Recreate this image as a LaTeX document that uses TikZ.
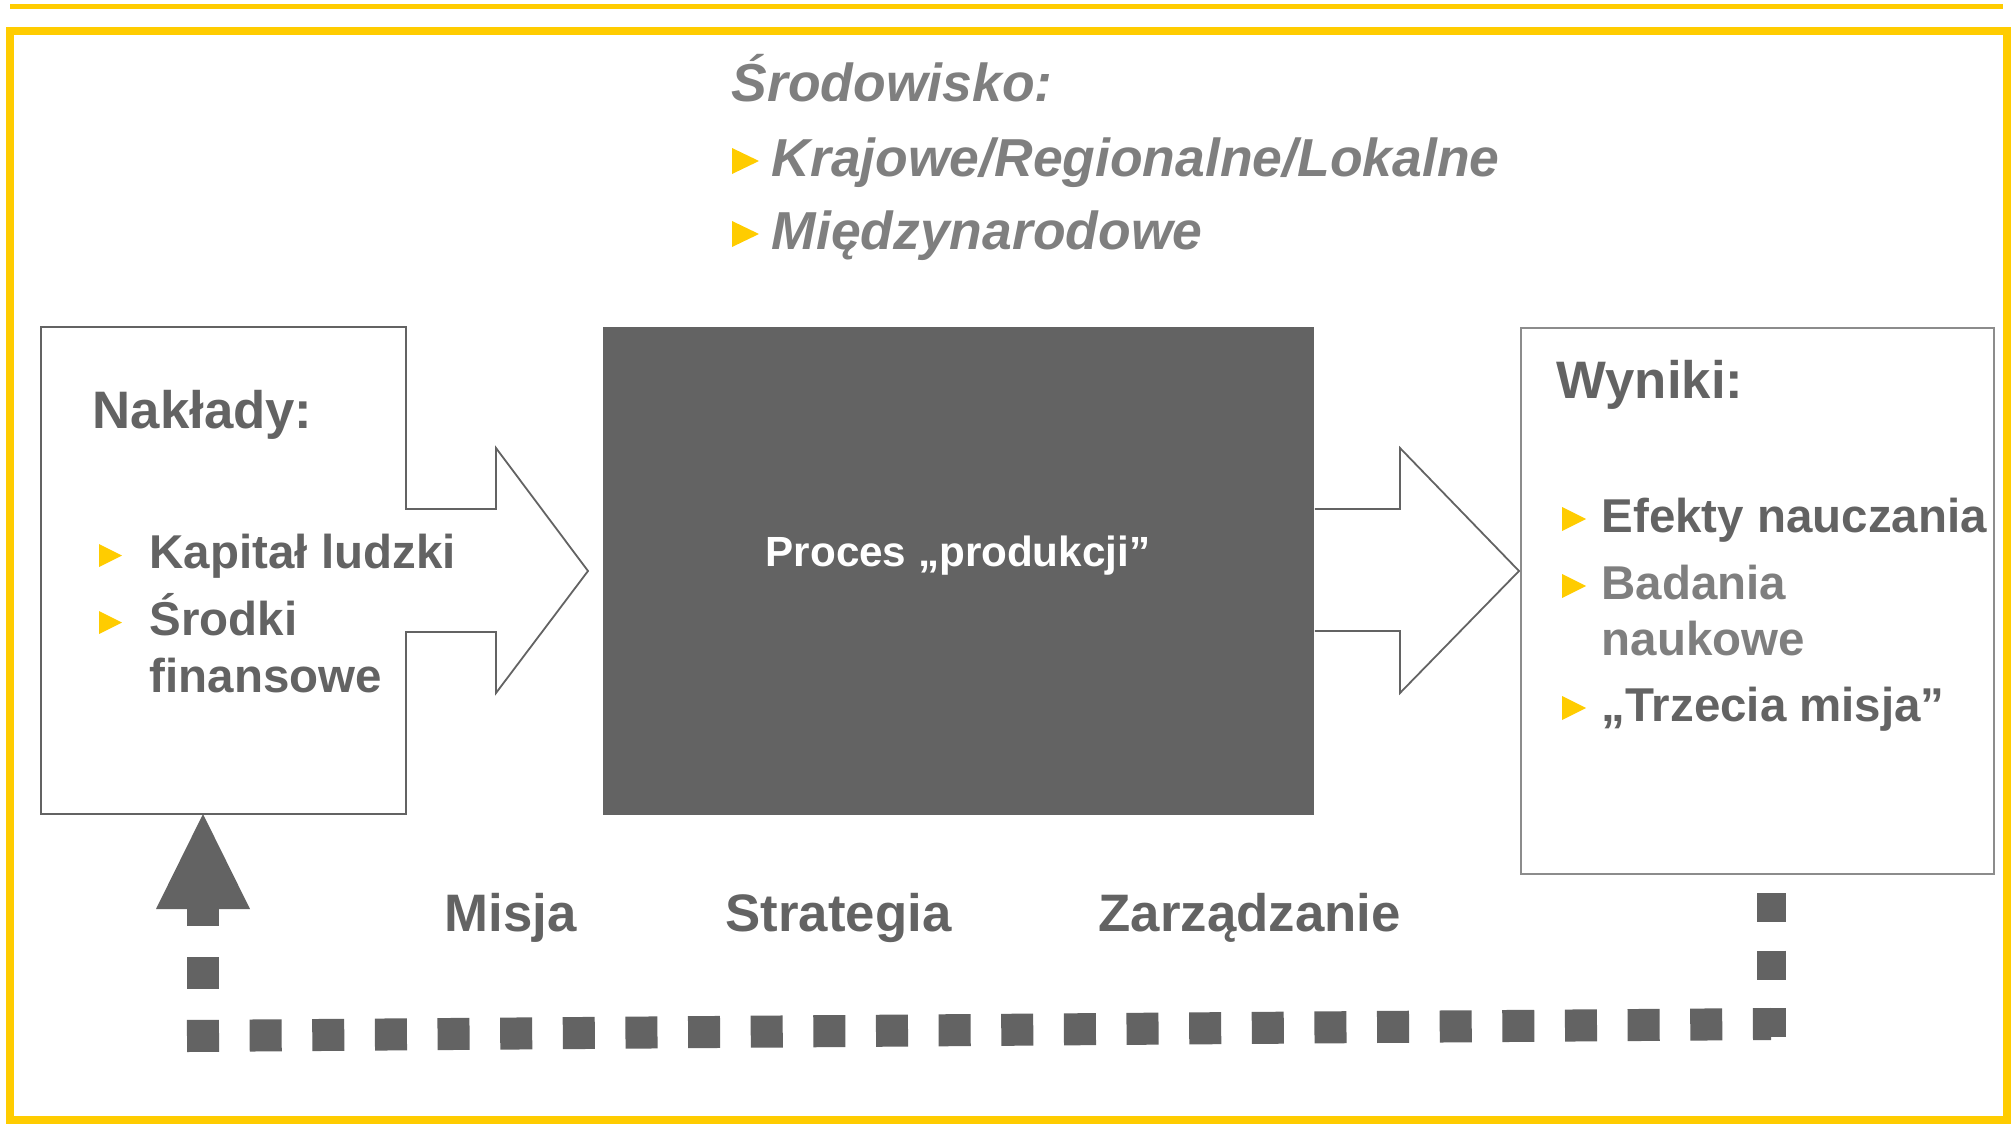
\documentclass[tikz,border=0pt]{standalone}
\usepackage{fontspec}
\setmainfont{Liberation Sans}
\definecolor{yel}{HTML}{FFCC00}
\definecolor{dg}{HTML}{636363}
\definecolor{lg}{HTML}{7F7F7F}
\definecolor{bx}{HTML}{8C8C8C}
\tikzset{
  headtxt/.style={font=\fontsize{15}{18}\selectfont\bfseries, text=dg, anchor=base west, inner sep=0pt},
  itemtxt/.style={font=\fontsize{13.5}{16}\selectfont\bfseries, text=dg, anchor=base west, inner sep=0pt},
  envtxt/.style={font=\fontsize{15.2}{18}\selectfont\bfseries\itshape, text=lg, anchor=base west, inner sep=0pt},
  bul/.style={fill=yel},
  outl/.style={draw=dg, line width=0.018cm},
  dots/.style={draw=dg, line width=0.32cm, dash pattern=on 0.32cm off 0.306cm}
}
\begin{document}
\begin{tikzpicture}[x=0.01cm,y=-0.01cm]
\useasboundingbox (0,0) rectangle (2011,1124);
% yellow lines
\fill[yel] (10,4) rectangle (2003,9);
\draw[yel, line width=0.08cm] (10,31) rectangle (2007,1120);

% input box with arrow
\draw[outl, fill=white] (41,327) -- (406,327) -- (406,509) -- (496,509) -- (496,448) -- (588,571)
  -- (496,693) -- (496,632) -- (406,632) -- (406,814) -- (41,814) -- cycle;
\coordinate (inB) at (203,814);

% process box
\node[fill=dg, inner sep=0pt, minimum width=7.11cm, minimum height=4.88cm, anchor=north west] (proc) at (602,326) {};
\node[font=\fontsize{12}{14}\selectfont\bfseries, text=white, anchor=base, inner sep=0pt] (proctxt) at (958,566) {Proces „produkcji”};

% output arrow
\draw[outl] (proc.east |- 0,509) -- (1400,509) -- (1400,448) -- (1519,571) -- (1400,693) -- (1400,631) -- (proc.east |- 0,631);

% output box
\node[draw=bx, line width=0.02cm, inner sep=0pt, minimum width=4.73cm, minimum height=5.46cm, anchor=north west] (outbox) at (1520,327) {};

% environment
\node[envtxt] (env) at (731,101) {Środowisko:};
\fill[bul] (732,174) -- (732,148) -- (759,161) -- cycle;
\node[envtxt] (env1) at (771,176) {Krajowe/Regionalne/Lokalne};
\fill[bul] (732,247) -- (732,221) -- (759,234) -- cycle;
\node[envtxt] (env2) at (771,249) {Międzynarodowe};

% inputs
\node[headtxt] (nak) at (92,428) {Nakłady:};
\fill[bul] (99,567) -- (99,544) -- (122,555.5) -- cycle;
\node[itemtxt] (k1) at (149,568) {Kapitał ludzki};
\fill[bul] (99,634) -- (99,611) -- (122,622.5) -- cycle;
\node[itemtxt] (k2) at (149,635) {Środki};
\node[itemtxt] (k3) at (149,692) {finansowe};

% outputs
\node[headtxt] (wyn) at (1556,398) {Wyniki:};
\fill[bul] (1562,531) -- (1562,507) -- (1586,519) -- cycle;
\node[itemtxt] (w1) at (1601,532) {Efekty nauczania};
\fill[bul] (1562,598) -- (1562,574) -- (1586,586) -- cycle;
\node[itemtxt, text=lg] (w2) at (1601,599) {Badania};
\node[itemtxt, text=lg] (w3) at (1601,655) {naukowe};
\fill[bul] (1562,720) -- (1562,696) -- (1586,708) -- cycle;
\node[itemtxt] (w4) at (1601,721) {„Trzecia misja”};

% bottom labels
\node[headtxt] (lm) at (444,931) {Misja};
\node[headtxt] (ls) at (725,931) {Strategia};
\node[headtxt] (lz) at (1098,931) {Zarządzanie};

% feedback connector
\coordinate (fbR) at (outbox.south -| 1771,0);
\draw[dg, line width=0.29cm, dash pattern=on 0.29cm off 0.285cm] (1771,893) -- (1771,1037);
\draw[dots] (187,1036) -- (1771,1024);
\draw[dots, dash pattern=on 0.32cm off 0.31cm] (203,1052) -- (203,909);
\fill[dg] (156,909) -- (250,909) -- (inB) -- cycle;
\end{tikzpicture}
\end{document}
